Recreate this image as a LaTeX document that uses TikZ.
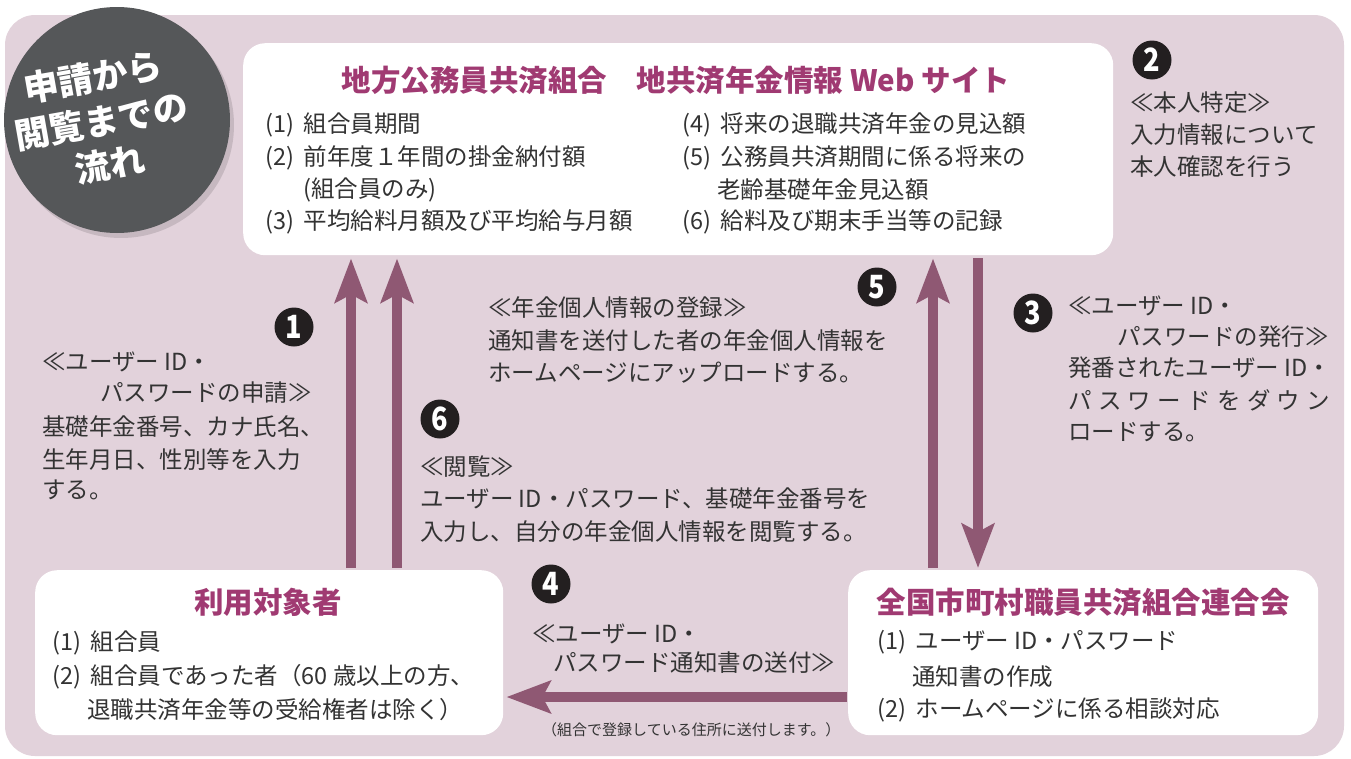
\documentclass[tikz,border=0pt]{standalone}
\usepackage{fontspec}
\setmainfont{Noto Sans CJK JP}
\usetikzlibrary{arrows.meta}
\definecolor{bgpink}{HTML}{E2D2DB}
\definecolor{arrowc}{HTML}{8F5873}
\definecolor{titlec}{HTML}{A03A72}
\definecolor{circc}{HTML}{555759}
\definecolor{numc}{HTML}{231F20}
\definecolor{txtc}{HTML}{333333}
\begin{document}
\begin{tikzpicture}[x=1pt,y=-1pt,
  whitebox/.style={fill=white, rounded corners=22pt, inner sep=0pt, anchor=north west},
  txt/.style={font=\fontsize{23.5}{23.5}\selectfont, text=txtc, anchor=west, inner sep=0pt},
  smalltxt/.style={font=\fontsize{15}{15}\selectfont, text=txtc, anchor=west, inner sep=0pt},
  ttl/.style={font=\fontsize{29.5}{29.5}\selectfont\bfseries, text=titlec, inner sep=0pt},
  badgeline/.style={rotate=10, text=white, inner sep=0pt, font=\fontsize{35}{35}\selectfont\bfseries},
  numbadge/.style={circle, fill=numc, text=white, minimum size=39pt, inner sep=0pt,
    font=\fontsize{32}{32}\selectfont\bfseries},
  arr/.style={draw=arrowc, line width=10pt, -{Stealth[length=44pt,width=32pt,inset=8pt]}}
]
\useasboundingbox (0,0) rectangle (1351,758);
% background
\fill[bgpink, rounded corners=30pt] (5,15) rectangle (1344,756);

% badge
\fill[black, opacity=0.12] (121,125) circle (113);
\node[circle, fill=circc, minimum size=226pt, inner sep=0pt] (badge) at (117,120) {};
\node[badgeline] (bl1) at (93,77) {申請から};
\node[badgeline] (bl2) at (101,121) {閲覧までの};
\node[badgeline] (bl3) at (110,164) {流れ};

% boxes
\node[whitebox, minimum width=870pt, minimum height=212pt] (web) at (243,43) {};
\node[whitebox, minimum width=468pt, minimum height=165pt] (user) at (35,570) {};
\node[whitebox, minimum width=470pt, minimum height=165pt] (assoc) at (848,570) {};

% web box content
\node[ttl] (webtitle) at (676,80) {地方公務員共済組合　地共済年金情報 Web サイト};
\node[txt] (w1) at (265,125) {(1)\hspace{0.4em}組合員期間};
\node[txt] (w2) at (265,158) {(2)\hspace{0.4em}前年度１年間の掛金納付額};
\node[txt] (w2b) at (303,190) {(組合員のみ)};
\node[txt] (w3) at (265,222) {(3)\hspace{0.4em}平均給料月額及び平均給与月額};
\node[txt] (w4) at (682,125) {(4)\hspace{0.4em}将来の退職共済年金の見込額};
\node[txt] (w5) at (682,158) {(5)\hspace{0.4em}公務員共済期間に係る将来の};
\node[txt] (w5b) at (717,190) {老齢基礎年金見込額};
\node[txt] (w6) at (682,222) {(6)\hspace{0.4em}給料及び期末手当等の記録};

% user box content
\node[ttl] (usertitle) at (268,602) {利用対象者};
\node[txt] (u1) at (52,643) {(1)\hspace{0.4em}組合員};
\node[txt] (u2) at (52,677) {(2)\hspace{0.4em}組合員であった者（60 歳以上の方、};
\node[txt] (u2b) at (87,710) {退職共済年金等の受給権者は除く）};

% association box content
\node[ttl] (assoctitle) at (1083,602) {全国市町村職員共済組合連合会};
\node[txt] (a1) at (877,642) {(1)\hspace{0.4em}ユーザー ID・パスワード};
\node[txt] (a1b) at (912,677) {通知書の作成};
\node[txt] (a2) at (877,710) {(2)\hspace{0.4em}ホームページに係る相談対応};

% arrows
\coordinate (xa) at (351,0);
\coordinate (xb) at (397,0);
\coordinate (xc) at (933,0);
\coordinate (xd) at (978,0);
\coordinate (ya) at (0,697);
\draw[arr, shorten <=2pt, shorten >=3pt] (xa |- user.north) -- (xa |- web.south);
\draw[arr, shorten <=2pt, shorten >=3pt] (xb |- user.north) -- (xb |- web.south);
\draw[arr, shorten <=2pt, shorten >=3pt] (xc |- assoc.north) -- (xc |- web.south);
\draw[arr, shorten <=3pt, shorten >=2pt] (xd |- web.south) -- (xd |- assoc.north);
\draw[arr, shorten <=1pt, shorten >=3pt] (assoc.west |- ya) -- (user.east |- ya);

% step 1
\node[numbadge] (n1) at (294,327) {\scalebox{0.85}[1]{1}};
\node[txt] (s1a) at (42,362) {≪ユーザー ID・};
\node[txt] (s1b) at (100,393) {パスワードの申請≫};
\node[txt] (s1c) at (42,427) {基礎年金番号、カナ氏名、};
\node[txt] (s1d) at (42,460) {生年月日、性別等を入力};
\node[txt] (s1e) at (42,490) {する。};

% step 2
\node[numbadge] (n2) at (1152,60) {\scalebox{0.85}[1]{2}};
\node[txt] (s2a) at (1130,103) {≪本人特定≫};
\node[txt] (s2b) at (1130,135) {入力情報について};
\node[txt] (s2c) at (1130,167) {本人確認を行う};

% step 3
\node[numbadge] (n3) at (1033,313) {\scalebox{0.85}[1]{3}};
\node[txt] (s3a) at (1068,306) {≪ユーザー ID・};
\node[txt] (s3b) at (1117,337) {パスワードの発行≫};
\node[txt] (s3c) at (1068,368) {発番されたユーザー ID・};
\node[txt] (s3d) at (1068,400) {\makebox[262pt][l]{パ\hfill ス\hfill ワ\hfill ー\hfill ド\hfill を\hfill ダ\hfill ウ\hfill ン}};
\node[txt] (s3e) at (1068,432) {ロードする。};

% step 4
\node[numbadge] (n4) at (551,584) {\scalebox{0.85}[1]{4}};
\node[txt] (s4a) at (532,634) {≪ユーザー ID・};
\node[txt] (s4b) at (553,663) {パスワード通知書の送付≫};
\node[smalltxt] (s4c) at (542,730) {（組合で登録している住所に送付します。）};

% step 5
\node[numbadge] (n5) at (877,287) {\scalebox{0.85}[1]{5}};
\node[txt] (s5a) at (488,308) {≪年金個人情報の登録≫};
\node[txt] (s5b) at (488,341) {通知書を送付した者の年金個人情報を};
\node[txt] (s5c) at (488,373) {ホームページにアップロードする。};

% step 6
\node[numbadge] (n6) at (440,419) {\scalebox{0.85}[1]{6}};
\node[txt] (s6a) at (420,467) {≪閲覧≫};
\node[txt] (s6b) at (420,499) {ユーザー ID・パスワード、基礎年金番号を};
\node[txt] (s6c) at (420,532) {入力し、自分の年金個人情報を閲覧する。};
\end{tikzpicture}
\end{document}
